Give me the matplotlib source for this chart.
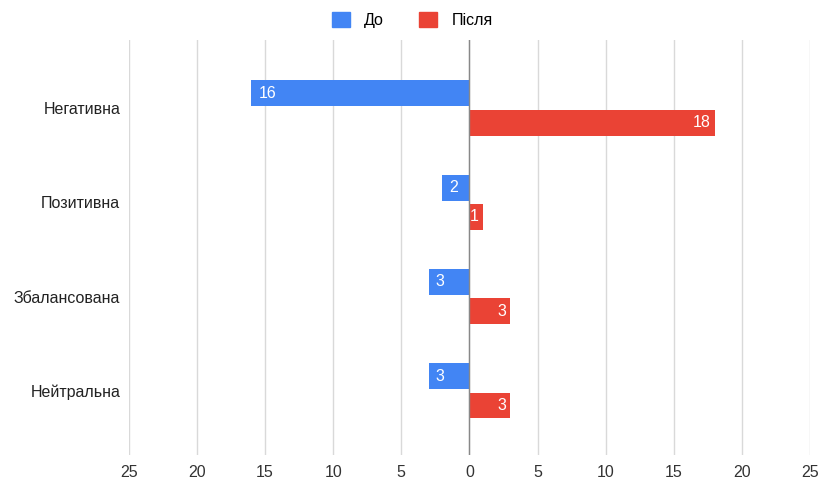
import numpy as np
import matplotlib.pyplot as plt
from matplotlib.patches import Patch

plt.rcParams['font.family'] = ['Liberation Sans', 'DejaVu Sans']

categories = ['Негативна', 'Позитивна', 'Збалансована', 'Нейтральна']
before = [16, 2, 3, 3]   # До (drawn to the left)
after = [18, 1, 3, 3]    # Після
tick_vals = [-25, -20, -15, -10, -5, 0, 5, 10, 15, 20, 25]
tick_labels = ['25', '20', '15', '10', '5', '0', '5', '10', '15', '20', '25']

blue = '#4285F4'
red = '#EA4335'
fs = 11.5

fig = plt.figure(figsize=(8.25, 4.83), dpi=100)
ax = fig.add_axes([0.156, 0.058, 0.826, 0.859])

y = np.arange(len(categories))
h = 0.275
off = 0.155

ax.barh(y - off, -np.array(before), height=h, color=blue, zorder=3)
ax.barh(y + off, after, height=h, color=red, zorder=3)

for yi, v in zip(y, before):
    ax.annotate(str(v), (-v, yi - off), xytext=(5, 0), textcoords='offset points',
                ha='left', va='center', color='white', fontsize=fs, zorder=4)
for yi, v in zip(y, after):
    ax.annotate(str(v), (v, yi + off), xytext=(-3, 0), textcoords='offset points',
                ha='right', va='center', color='white', fontsize=fs, zorder=4)

ax.set_xlim(-25, 25)
ax.set_ylim(3.68, -0.72)
ax.set_xticks(tick_vals)
ax.set_xticklabels(tick_labels, fontsize=fs, color='#333333')
ax.set_yticks(y)
ax.set_yticklabels(categories, fontsize=fs, color='#222222')
ax.tick_params(length=0, axis='both')
ax.tick_params(axis='x', pad=7)
ax.tick_params(axis='y', pad=6)

ax.grid(axis='x', color='#d9d9d9', linewidth=1, zorder=0)
ax.axvline(0, color='#888888', linewidth=1, zorder=3.5)
for s in ax.spines.values():
    s.set_visible(False)

handles = [Patch(color=blue, label='До'), Patch(color=red, label='Після')]
fig.legend(handles=handles, loc='upper center', bbox_to_anchor=(0.5, 1.005), ncol=2,
           frameon=False, fontsize=fs, handlelength=1.1, handleheight=1.1,
           columnspacing=2.2, handletextpad=0.9)

fig.savefig('out.png', dpi=100)
